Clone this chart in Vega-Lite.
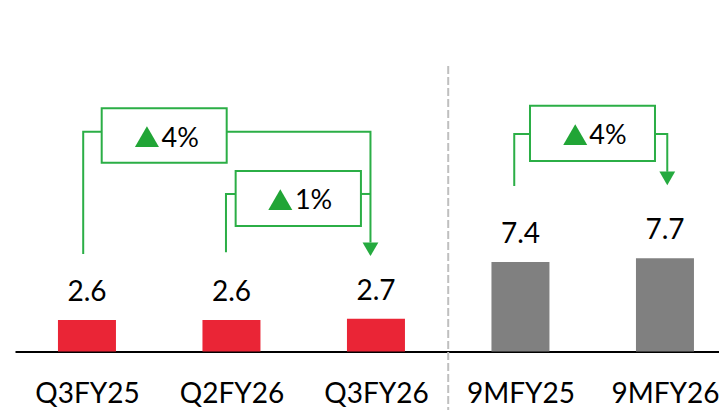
{
  "$schema": "https://vega.github.io/schema/vega-lite/v6.json",
  "width": 704,
  "height": 410,
  "autosize": {"type": "none"},
  "padding": {"left": 15, "top": 0, "right": 0, "bottom": 0},
  "background": "white",
  "config": {
    "view": {"stroke": null},
    "font": "Lato",
    "text": {"font": "Lato"}
  },
  "datasets": {
    "bars": [
      {"period": "Q3FY25", "slot": 0, "value": 2.6, "group": "quarter"},
      {"period": "Q2FY26", "slot": 1, "value": 2.6, "group": "quarter"},
      {"period": "Q3FY26", "slot": 2, "value": 2.7, "group": "quarter"},
      {"period": "9MFY25", "slot": 3, "value": 7.4, "group": "nine_months"},
      {"period": "9MFY26", "slot": 4, "value": 7.7, "group": "nine_months"}
    ],
    "divider": [{"slot": 2.5, "top": 23.6, "bottom": -4.835}],
    "links": [
      {"path": "a", "step": 0, "x": -0.026, "y": 8.06},
      {"path": "a", "step": 1, "x": -0.026, "y": 18.17},
      {"path": "a", "step": 2, "x": 0.102, "y": 18.17},
      {"path": "b", "step": 0, "x": 0.967, "y": 18.17},
      {"path": "b", "step": 1, "x": 1.962, "y": 18.17},
      {"path": "b", "step": 2, "x": 1.962, "y": 9.0},
      {"path": "c", "step": 0, "x": 0.962, "y": 8.2},
      {"path": "c", "step": 1, "x": 0.962, "y": 13.02},
      {"path": "c", "step": 2, "x": 1.029, "y": 13.02},
      {"path": "d", "step": 0, "x": 1.896, "y": 13.02},
      {"path": "d", "step": 1, "x": 1.962, "y": 13.02},
      {"path": "e", "step": 0, "x": 2.957, "y": 13.67},
      {"path": "e", "step": 1, "x": 2.957, "y": 17.98},
      {"path": "e", "step": 2, "x": 3.066, "y": 17.98},
      {"path": "f", "step": 0, "x": 3.931, "y": 17.98},
      {"path": "f", "step": 1, "x": 4.016, "y": 17.98},
      {"path": "f", "step": 2, "x": 4.016, "y": 14.85}
    ],
    "arrows": [
      {"x": 1.962, "y": 8.45},
      {"x": 4.016, "y": 14.31}
    ],
    "boxes": [
      {"x": 0.102, "x2": 0.967, "y": 15.6, "y2": 20.1, "tx": 0.415, "ty": 17.75, "lx": 0.516, "ly": 16.93, "label": "4%"},
      {"x": 1.029, "x2": 1.896, "y": 10.37, "y2": 14.92, "tx": 1.338, "ty": 12.55, "lx": 1.439, "ly": 11.76, "label": "1%"},
      {"x": 3.066, "x2": 3.931, "y": 15.74, "y2": 20.31, "tx": 3.379, "ty": 17.92, "lx": 3.476, "ly": 17.12, "label": "4%"}
    ]
  },
  "layer": [
    {
      "data": {"name": "bars"},
      "mark": {"type": "bar", "size": 58},
      "encoding": {
        "x": {
          "field": "slot",
          "type": "quantitative",
          "scale": {"domain": [-0.498, 4.374], "nice": false, "zero": false, "padding": 0},
          "axis": {
            "values": [0, 1, 2, 3, 4],
            "labelExpr": "['Q3FY25','Q2FY26','Q3FY26','9MFY25','9MFY26'][datum.value]",
            "orient": "bottom",
            "offset": -58.5,
            "title": null,
            "grid": false,
            "ticks": false,
            "domainColor": "black",
            "domainWidth": 2,
            "labelFont": "Lato",
            "labelFontSize": 28,
            "labelColor": "black",
            "labelBaseline": "alphabetic",
            "labelPadding": 51,
            "labelFlush": false,
            "labelOverlap": false
          }
        },
        "y": {
          "field": "value",
          "type": "quantitative",
          "scale": {"domain": [-4.835, 29.05], "nice": false, "zero": false, "padding": 0},
          "axis": null
        },
        "y2": {"datum": 0},
        "color": {
          "field": "group",
          "type": "nominal",
          "scale": {"domain": ["quarter", "nine_months"], "range": ["#EA2536", "#808080"]},
          "legend": null
        }
      }
    },
    {
      "data": {"name": "divider"},
      "mark": {"type": "rule", "color": "#BFBFBF", "strokeWidth": 2, "strokeDash": [8, 3]},
      "encoding": {
        "x": {"field": "slot", "type": "quantitative"},
        "y": {"field": "top", "type": "quantitative"},
        "y2": {"field": "bottom"}
      }
    },
    {
      "data": {"name": "bars"},
      "mark": {"type": "text", "fontSize": 28, "color": "black", "baseline": "alphabetic", "dy": -19},
      "encoding": {
        "x": {"field": "slot", "type": "quantitative"},
        "y": {"field": "value", "type": "quantitative"},
        "text": {"field": "value", "type": "quantitative", "format": ".1f"}
      }
    },
    {
      "data": {"name": "links"},
      "mark": {"type": "line", "color": "#2BAE46", "strokeWidth": 2, "strokeJoin": "miter", "strokeCap": "butt"},
      "encoding": {
        "x": {"field": "x", "type": "quantitative"},
        "y": {"field": "y", "type": "quantitative"},
        "detail": {"field": "path"},
        "order": {"field": "step"}
      }
    },
    {
      "data": {"name": "arrows"},
      "mark": {"type": "point", "shape": "triangle-down", "filled": true, "size": 250, "color": "#25AA3F", "opacity": 1},
      "encoding": {
        "x": {"field": "x", "type": "quantitative"},
        "y": {"field": "y", "type": "quantitative"}
      }
    },
    {
      "data": {"name": "boxes"},
      "mark": {"type": "rect", "fill": "white", "stroke": "#2BAE46", "strokeWidth": 2},
      "encoding": {
        "x": {"field": "x", "type": "quantitative"},
        "x2": {"field": "x2"},
        "y": {"field": "y", "type": "quantitative"},
        "y2": {"field": "y2"}
      }
    },
    {
      "data": {"name": "boxes"},
      "mark": {"type": "point", "shape": "triangle-up", "filled": true, "size": 576, "color": "#21A536", "opacity": 1},
      "encoding": {
        "x": {"field": "tx", "type": "quantitative"},
        "y": {"field": "ty", "type": "quantitative"}
      }
    },
    {
      "data": {"name": "boxes"},
      "mark": {"type": "text", "fontSize": 27, "color": "black", "align": "left", "baseline": "alphabetic"},
      "encoding": {
        "x": {"field": "lx", "type": "quantitative"},
        "y": {"field": "ly", "type": "quantitative"},
        "text": {"field": "label"}
      }
    }
  ]
}
